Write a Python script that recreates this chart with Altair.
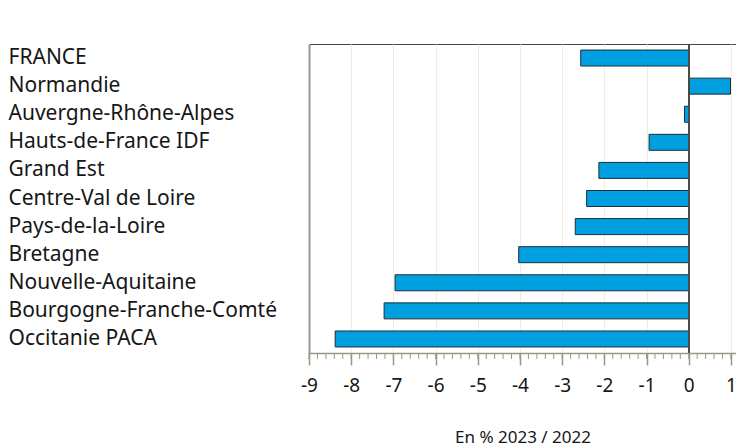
import altair as alt
import pandas as pd

regions = [
    "FRANCE", "Normandie", "Auvergne-Rhône-Alpes", "Hauts-de-France IDF",
    "Grand Est", "Centre-Val de Loire", "Pays-de-la-Loire", "Bretagne",
    "Nouvelle-Aquitaine", "Bourgogne-Franche-Comté", "Occitanie PACA",
]
values = [-2.56, 0.99, -0.10, -0.94, -2.13, -2.42, -2.69, -4.03, -6.96, -7.22, -8.38]
major_ticks = [-9, -8, -7, -6, -5, -4, -3, -2, -1, 0, 1]
minor_ticks = [
    -9.0, -8.8, -8.6, -8.4, -8.2, -8.0, -7.8, -7.6, -7.4, -7.2,
    -7.0, -6.8, -6.6, -6.4, -6.2, -6.0, -5.8, -5.6, -5.4, -5.2,
    -5.0, -4.8, -4.6, -4.4, -4.2, -4.0, -3.8, -3.6, -3.4, -3.2,
    -3.0, -2.8, -2.6, -2.4, -2.2, -2.0, -1.8, -1.6, -1.4, -1.2,
    -1.0, -0.8, -0.6, -0.4, -0.2, 0.0, 0.2, 0.4, 0.6, 0.8, 1.0,
]
x_title = "En % 2023 / 2022"

df = pd.DataFrame({"region": regions, "value": values})
df_minor = pd.DataFrame({"tick": minor_ticks})

FONT = "Noto Sans"
PLOT_H = 309
x_scale = alt.Scale(domain=[-9, 1.12], nice=False, zero=False)

bars = alt.Chart(df).mark_bar(
    height=16, color="#009fe0", stroke="#1b2f3f", strokeWidth=1
).encode(
    x=alt.X(
        "value:Q", scale=x_scale,
        axis=alt.Axis(
            values=major_ticks, tickSize=12, tickColor="#9a968a", tickWidth=1.5,
            domainColor="#9a968a", domainWidth=1.5,
            grid=True, gridColor="#f0eedc", gridWidth=1,
            labelFont=FONT, labelFontSize=19, labelColor="#161616", labelPadding=11,
            labelFlush=False, labelExpr="datum.value + ''",
            title=x_title, titleFont=FONT, titleFontSize=17, titleFontWeight="normal",
            titleColor="#161616", titlePadding=34,
        ),
    ),
    y=alt.Y(
        "region:N", sort=regions,
        scale=alt.Scale(paddingInner=0, paddingOuter=0),
        axis=alt.Axis(
            title=None, ticks=False, domain=True, domainColor="#9a968a", domainWidth=2,
            labelAlign="left", labelPadding=301, labelFont=FONT, labelFontSize=21,
            labelColor="#161616", labelLimit=400, grid=False,
        ),
    ),
)

minor = alt.Chart(df_minor).mark_rule(color="#9a968a", strokeWidth=1).encode(
    x=alt.X("tick:Q", scale=x_scale),
    y=alt.value(PLOT_H),
    y2=alt.value(PLOT_H + 6),
)

zero = alt.Chart(df).mark_rule(color="#4a4a40", strokeWidth=1).encode(
    x=alt.datum(0, scale=x_scale)
)

chart = alt.layer(bars, minor, zero).properties(
    width=427, height=PLOT_H,
    autosize=alt.AutoSizeParams(type="none"),
    padding={"left": 301, "top": 36, "right": 0, "bottom": 94},
).configure_view(stroke="#4a4535", strokeWidth=1)

chart.save("out.html", embed_options={"renderer": "svg", "actions": False})
